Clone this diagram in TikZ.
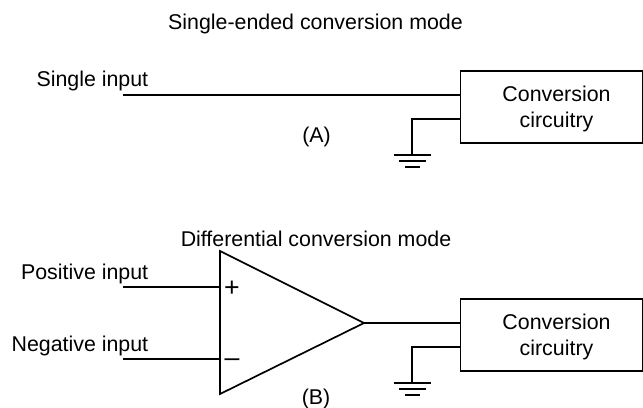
\documentclass[tikz,border=0pt]{standalone}
\usepackage{fontspec}
\setmainfont{Liberation Sans}
\tikzset{
    wire/.style={line width=1.2pt},
    label/.style={font=\fontsize{15.2}{18.5}\selectfont, inner sep=0pt},
    sign/.style={font=\fontsize{19}{19}\selectfont, inner sep=0pt},
    convbox/.style={wire, draw, minimum width=4.55cm, minimum height=1.8cm},
}
\begin{document}
\begin{tikzpicture}[x=0.025cm, y=-0.025cm]
    \useasboundingbox (0,0) rectangle (643,407);
    % (A)
    \node[convbox] (boxa) at (551.5,107) {};
    \node[label, align=center] (conva) at (556.5,108.5) {Conversion\\circuitry};
    \node[label, anchor=base] (titlea) at (315.5,30) {Single-ended conversion mode};
    \node[label, anchor=base east] (singlelabel) at (148.5,87) {Single input};
    \node[label, anchor=base] (taga) at (316.5,142) {(A)};
    \coordinate (singlein) at (123,95);
    \coordinate (singleend) at (boxa.west |- singlein);
    \coordinate (gnda) at (412,155);
    \coordinate (retura) at (boxa.west |- 0,119);
    \draw[wire] (singlein) -- (singleend);
    \draw[wire] (retura) -| (gnda);
    \draw[wire] (394,155) -- (431,155);
    \draw[wire] (399,161) -- (426,161);
    \draw[wire] (405,167) -- (420,167);
    % (B)
    \node[convbox] (boxb) at (551.5,335) {};
    \node[label, align=center] (convb) at (556.5,336.5) {Conversion\\circuitry};
    \node[label, anchor=base] (titleb) at (316,246) {Differential conversion mode};
    \node[label, anchor=base east] (poslabel) at (148.5,279) {Positive input};
    \node[label, anchor=base east] (neglabel) at (148.5,351) {Negative input};
    \node[label, anchor=base] (tagb) at (316,404) {(B)};
    \coordinate (tri1) at (220,251);
    \coordinate (tri2) at (220,394);
    \coordinate (tip) at (364,323);
    \draw[wire] (tri1) -- (tri2) -- (tip) -- cycle;
    \node[sign] (plus) at (232,289) {+};
    \node[sign] (minus) at (232,363) {\textendash};
    \coordinate (posin) at (123,287);
    \coordinate (negin) at (123,359);
    \draw[wire] (posin) -- (220,287);
    \draw[wire] (negin) -- (220,359);
    \draw[wire] (tip) -- (boxb.west |- tip);
    \coordinate (gndb) at (412,383);
    \coordinate (returb) at (boxb.west |- 0,347);
    \draw[wire] (returb) -| (gndb);
    \draw[wire] (394,383) -- (431,383);
    \draw[wire] (399,389) -- (426,389);
    \draw[wire] (405,395) -- (420,395);
\end{tikzpicture}
\end{document}
